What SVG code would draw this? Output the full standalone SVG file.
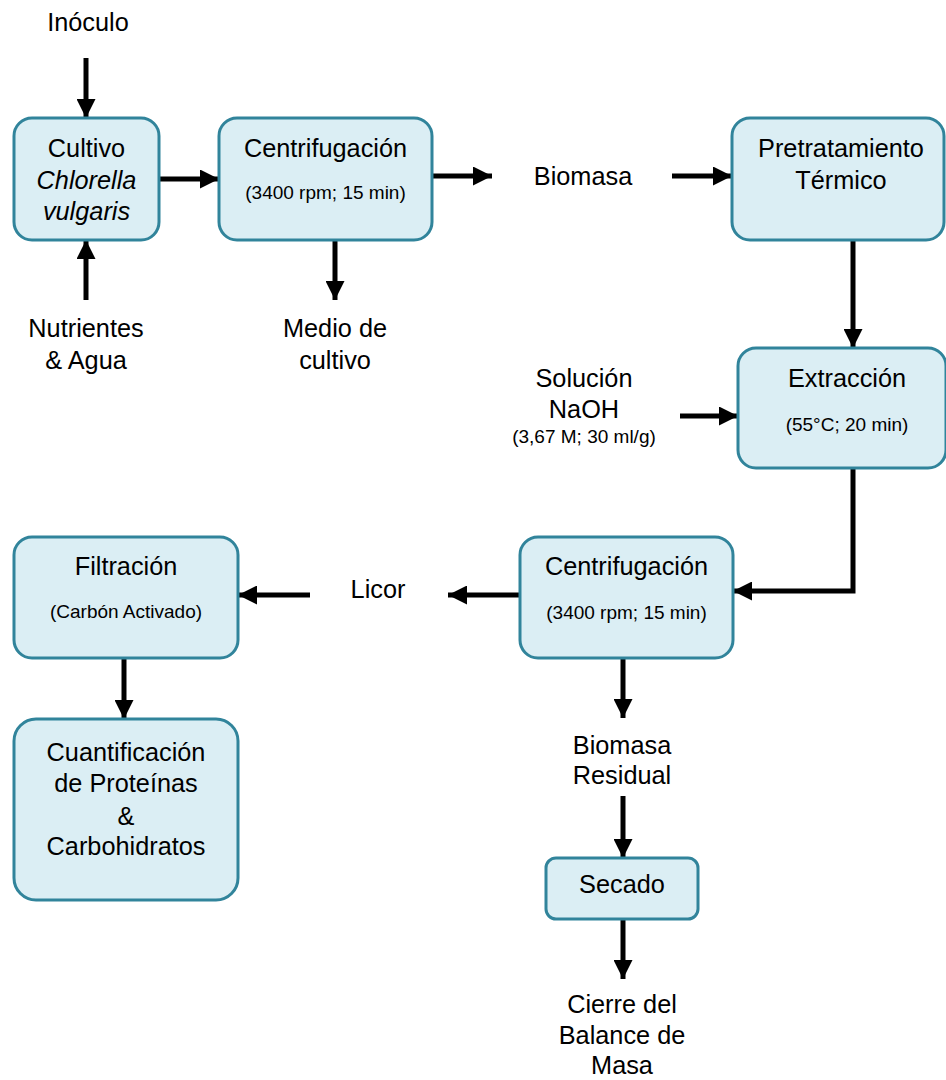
<svg xmlns="http://www.w3.org/2000/svg" width="946" height="1080" viewBox="0 0 946 1080">
<defs>
<marker id="ah" markerUnits="userSpaceOnUse" markerWidth="19" markerHeight="19" refX="19" refY="9.5" orient="auto">
<path d="M0,0 L19,9.5 L0,19 z" fill="#000"/>
</marker>
<style>
.box{fill:#DBEEF4;stroke:#31849B;stroke-width:3}
.t{font-family:"Liberation Sans",Arial,sans-serif;font-size:25.3px;fill:#000;text-anchor:middle}
.s{font-family:"Liberation Sans",Arial,sans-serif;font-size:19px;fill:#000;text-anchor:middle}
.c{stroke:#000;stroke-width:5;fill:none;marker-end:url(#ah)}
</style>
</defs>
<rect width="946" height="1080" fill="#fff"/>
<g id="connectors">
<line class="c" x1="86" y1="58" x2="86" y2="118"/>
<line class="c" x1="86" y1="300" x2="86" y2="240"/>
<line class="c" x1="160" y1="179" x2="219" y2="179"/>
<line class="c" x1="432" y1="176" x2="492" y2="176"/>
<line class="c" x1="672" y1="176" x2="732" y2="176"/>
<line class="c" x1="335" y1="240" x2="335" y2="300"/>
<line class="c" x1="853" y1="240" x2="853" y2="348"/>
<line class="c" x1="680" y1="416" x2="738" y2="416"/>
<polyline class="c" points="853,468 853,591 733,591"/>
<line class="c" x1="520" y1="595" x2="448" y2="595"/>
<line class="c" x1="310" y1="595" x2="238" y2="595"/>
<line class="c" x1="124" y1="658" x2="124" y2="719"/>
<line class="c" x1="623" y1="658" x2="623" y2="718"/>
<line class="c" x1="623" y1="796" x2="623" y2="858"/>
<line class="c" x1="623" y1="919" x2="623" y2="979"/>
</g>
<g id="n_inoculo"><text class="t" x="88" y="31">Inóculo</text></g>
<g id="n_nutrientes"><text class="t" x="86" y="337">Nutrientes</text><text class="t" x="86" y="369">&amp; Agua</text></g>
<g id="n_cultivo">
<rect class="box" x="14" y="118" width="145" height="122" rx="18"/>
<text class="t" x="86.5" y="157">Cultivo</text>
<text class="t" x="86.5" y="189" font-style="italic">Chlorella</text>
<text class="t" x="86.5" y="220" font-style="italic">vulgaris</text>
</g>
<g id="n_centrif1">
<rect class="box" x="219" y="118" width="213" height="122" rx="18"/>
<text class="t" x="325.5" y="157">Centrifugación</text>
<text class="s" x="325.5" y="199">(3400 rpm; 15 min)</text>
</g>
<g id="n_medio"><text class="t" x="335" y="337">Medio de</text><text class="t" x="335" y="369">cultivo</text></g>
<g id="n_biomasa"><text class="t" x="583" y="185">Biomasa</text></g>
<g id="n_pretrat">
<rect class="box" x="732" y="118" width="212" height="122" rx="18"/>
<text class="t" x="841" y="157">Pretratamiento</text>
<text class="t" x="841" y="189">Térmico</text>
</g>
<g id="n_naoh">
<text class="t" x="584" y="387">Solución</text>
<text class="t" x="584" y="418">NaOH</text>
<text class="s" x="584" y="443">(3,67 M; 30 ml/g)</text>
</g>
<g id="n_extraccion">
<rect class="box" x="738" y="348" width="208" height="120" rx="18"/>
<text class="t" x="847" y="387">Extracción</text>
<text class="s" x="847" y="431">(55°C; 20 min)</text>
</g>
<g id="n_centrif2">
<rect class="box" x="520" y="537" width="213" height="121" rx="18"/>
<text class="t" x="626.5" y="575">Centrifugación</text>
<text class="s" x="626.5" y="619">(3400 rpm; 15 min)</text>
</g>
<g id="n_licor"><text class="t" x="378" y="598">Licor</text></g>
<g id="n_filtracion">
<rect class="box" x="14" y="537" width="224" height="121" rx="18"/>
<text class="t" x="126" y="575">Filtración</text>
<text class="s" x="126" y="618">(Carbón Activado)</text>
</g>
<g id="n_cuant">
<rect class="box" x="14" y="719" width="224" height="181" rx="22"/>
<text class="t" x="126" y="761">Cuantificación</text>
<text class="t" x="126" y="792">de Proteínas</text>
<text class="t" x="126" y="825">&amp;</text>
<text class="t" x="126" y="855">Carbohidratos</text>
</g>
<g id="n_residual"><text class="t" x="622" y="754">Biomasa</text><text class="t" x="622" y="784">Residual</text></g>
<g id="n_secado">
<rect class="box" x="546" y="858" width="152" height="61" rx="10"/>
<text class="t" x="622" y="893">Secado</text>
</g>
<g id="n_cierre"><text class="t" x="622" y="1013">Cierre del</text><text class="t" x="622" y="1044">Balance de</text><text class="t" x="622" y="1074">Masa</text></g>
</svg>
